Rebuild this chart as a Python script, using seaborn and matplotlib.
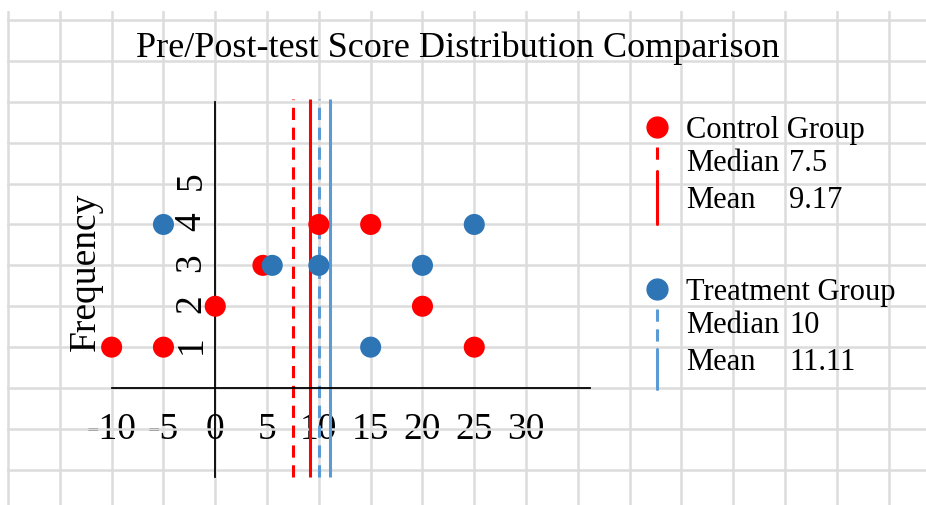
import numpy as np
import pandas as pd
import seaborn as sns
import matplotlib.pyplot as plt

# data
control_scores = [-10, -5, 0, 5, 10, 15, 20, 25]
control_freq = [1, 1, 2, 3, 4, 4, 2, 1]
treatment_scores = [-5, 5, 10, 15, 20, 25]
treatment_freq = [4, 3, 3, 1, 3, 4]

groups = ["Control Group", "Treatment Group"]
dot_colors = ["#ff0000", "#2e75b6"]
line_colors = ["#ff0000", "#5b9bd5"]
medians = [7.5, 10]
means = [9.17, 11.11]

x_labels = [-10, -5, 0, 5, 10, 15, 20, 25, 30]
y_labels = [1, 2, 3, 4, 5]

df = pd.concat([
    pd.DataFrame({"score": control_scores, "freq": control_freq, "group": groups[0]}),
    pd.DataFrame({"score": treatment_scores, "freq": treatment_freq, "group": groups[1]}),
], ignore_index=True)

# nudge dots that would sit on top of each other
dup = df.duplicated(["score", "freq"], keep=False)
df["x"] = df["score"] + np.where(dup, np.where(df["group"] == groups[0], -0.4, 0.5), 0)

sns.set_style("white")
plt.rcParams["font.family"] = ["Liberation Serif", "DejaVu Serif"]
plt.rcParams["text.color"] = "black"
plt.rcParams["xtick.color"] = "black"
plt.rcParams["ytick.color"] = "black"
plt.rcParams["axes.unicode_minus"] = False

fig = plt.figure(figsize=(9.26, 5.06), dpi=100)
ax = fig.add_axes([7 / 926, 0, 919 / 926, 494 / 506])

# median / mean lines
for i in range(2):
    ax.vlines(medians[i], -2.18, 7.07, colors=line_colors[i], lw=2.2,
              linestyles=(0, (4, 2.5)), zorder=2)
    ax.vlines(means[i], -2.18, 7.07, colors=line_colors[i], lw=2.2, zorder=2)

sns.scatterplot(data=df, x="x", y="freq", hue="group", palette=dot_colors,
                s=230, linewidth=0, legend=False, ax=ax, zorder=3)

ax.set_xlim(-20.1, 68.6)
ax.set_ylim(-2.86, 9.22)

# graph-paper grid
grid_x = np.arange(-20, 70, 5)
grid_y = np.arange(-2, 10)
ax.set_xticks(grid_x)
ax.set_xticklabels([str(t) if t in x_labels else "" for t in grid_x])
ax.set_yticks(grid_y)
ax.set_yticklabels([str(t) if t in y_labels else "" for t in grid_y])
ax.grid(True, color="#dcdcdc", lw=1.8)
ax.set_axisbelow(True)

# axes crossing at the origin
for side in ["top", "right"]:
    ax.spines[side].set_visible(False)
ax.spines["left"].set_position(("data", 0))
ax.spines["bottom"].set_position(("data", 0))
ax.spines["left"].set_bounds(-2.18, 7.0)
ax.spines["bottom"].set_bounds(-10, 36.2)
for side in ["left", "bottom"]:
    ax.spines[side].set_color("black")
    ax.spines[side].set_linewidth(1.3)

ax.tick_params(axis="both", length=0, labelsize=27, labelcolor="black")
ax.tick_params(axis="x", pad=17)
ax.tick_params(axis="y", labelrotation=90, pad=5)
ax.set_xlabel("")
ax.set_ylabel("")

ax.text(0.085, 0.474, "Frequency", transform=ax.transAxes, rotation=90,
        ha="center", va="center", fontsize=27)
ax.text(0.49, 0.927, "Pre/Post-test Score Distribution Comparison",
        transform=ax.transAxes, ha="center", va="center", fontsize=26)

# hand made legend
mx, tx, vx = 0.707, 0.739, 0.851
blocks = [(0.765, [(0.725, 0.690, True), (0.676, 0.569, False)]),
          (0.437, [(0.397, 0.322, True), (0.316, 0.235, False)])]
for i, (top, segs) in enumerate(blocks):
    ax.plot([mx], [top], "o", ms=15, color=dot_colors[i], transform=ax.transAxes)
    for y1, y2, dashed in segs:
        ax.plot([mx, mx], [y1, y2], color=line_colors[i], lw=2.2,
                ls=(0, (4, 2.5)) if dashed else "-", transform=ax.transAxes)
    ax.text(tx, top - 0.004, groups[i], transform=ax.transAxes, va="center", fontsize=22)
    rows = [("Median", medians[i]), ("Mean", means[i])]
    for j, (name, val) in enumerate(rows):
        y = top - 0.072 - j * 0.075
        ax.text(tx, y, name, transform=ax.transAxes, va="center", fontsize=22)
        ax.text(vx, y, f"{val:g}", transform=ax.transAxes, va="center", fontsize=22)

fig.savefig("out.png", dpi=100)
